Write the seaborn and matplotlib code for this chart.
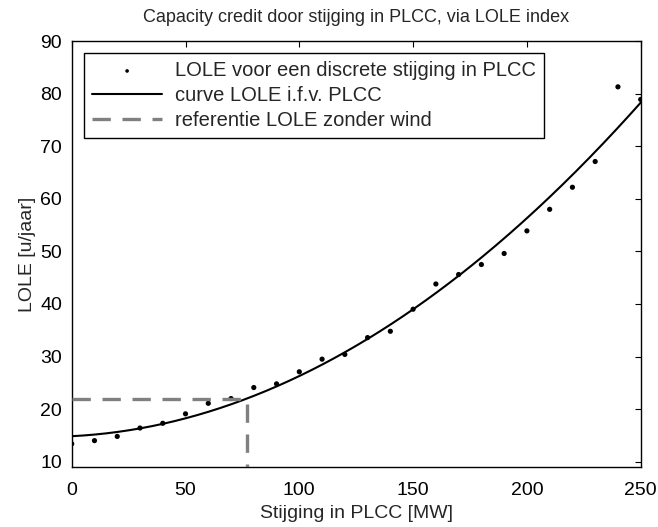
import numpy as np
import pandas as pd
import matplotlib
matplotlib.use("Agg")
import matplotlib.pyplot as plt
import seaborn as sns

# Increase in PLCC (MW) and the resulting LOLE (hours/year)
plcc_mw = [0, 10, 20, 30, 40, 50, 60, 70, 80, 90, 100, 110, 120, 130, 140,
           150, 160, 170, 180, 190, 200, 210, 220, 230, 240, 250]
lole = [13.4, 14.0, 14.8, 16.4, 17.3, 19.1, 21.1, 22.0, 24.1, 24.8, 27.1,
        29.5, 30.4, 33.6, 34.8, 39.0, 43.8, 45.6, 47.5, 49.6, 53.9, 58.0,
        62.2, 67.1, 81.3, 78.9]

# reference LOLE of the system without wind
lole_ref = 22.0

x_ticks = [0, 50, 100, 150, 200, 250]
y_ticks = [10, 20, 30, 40, 50, 60, 70, 80, 90]

sns.set_style("white")
plt.rcParams["font.family"] = ["Liberation Sans", "DejaVu Sans"]
plt.rcParams["font.size"] = 14

df = pd.DataFrame({"plcc": plcc_mw, "lole": lole})

# second-order fit of LOLE as a function of PLCC
coef = np.polyfit(df["plcc"], df["lole"], 2)
x_fit = np.linspace(0, 250, 300)
fit_df = pd.DataFrame({"plcc": x_fit, "lole": np.polyval(coef, x_fit)})

# PLCC at which the fitted curve reaches the reference LOLE
roots = np.roots(coef - np.array([0, 0, lole_ref]))
roots = roots[np.isreal(roots)].real
x_cross = float(roots[(roots >= 0) & (roots <= 250)][0])

fig = plt.figure(figsize=(6.58, 5.27), dpi=100)
ax = fig.add_axes([0.109, 0.114, 0.8647, 0.808])

sns.scatterplot(data=df, x="plcc", y="lole", ax=ax, color="black", s=14,
                edgecolor="none", label="LOLE voor een discrete stijging in PLCC",
                zorder=2)
sns.lineplot(data=fit_df, x="plcc", y="lole", ax=ax, color="black",
             linewidth=1.5, label="curve LOLE i.f.v. PLCC", zorder=3)
ref_df = pd.DataFrame({"plcc": [0, x_cross, x_cross], "lole": [lole_ref, lole_ref, 9]})
ax.plot(ref_df["plcc"], ref_df["lole"], color="#808080", linewidth=2.4,
        dashes=(5.5, 3.5), label="referentie LOLE zonder wind", zorder=4)

ax.set_xlim(0, 250)
ax.set_ylim(9, 90)
ax.set_xticks(x_ticks)
ax.set_yticks(y_ticks)
ax.tick_params(direction="in", length=4, width=0.8, top=True, right=True,
               labelsize=14, colors="black")
ax.tick_params(axis="x", pad=11)
ax.tick_params(axis="y", pad=7)
for sp in ax.spines.values():
    sp.set_color("black")
    sp.set_linewidth(1.0)

ax.set_xlabel("Stijging in PLCC [MW]", fontsize=14, labelpad=4)
ax.set_ylabel("LOLE [u/jaar]", fontsize=14, labelpad=3)
ax.set_title("Capacity credit door stijging in PLCC, via LOLE index", fontsize=13, pad=14)

leg = ax.legend(loc="upper left", frameon=True, fancybox=False, fontsize=14.5,
                handlelength=3.5, handletextpad=0.65, borderpad=0.4,
                labelspacing=0.3, borderaxespad=0.6, markerscale=0.7)
leg.get_frame().set_edgecolor("black")
leg.get_frame().set_linewidth(1.0)
leg.get_frame().set_alpha(1)

fig.savefig("out.png", dpi=100)
